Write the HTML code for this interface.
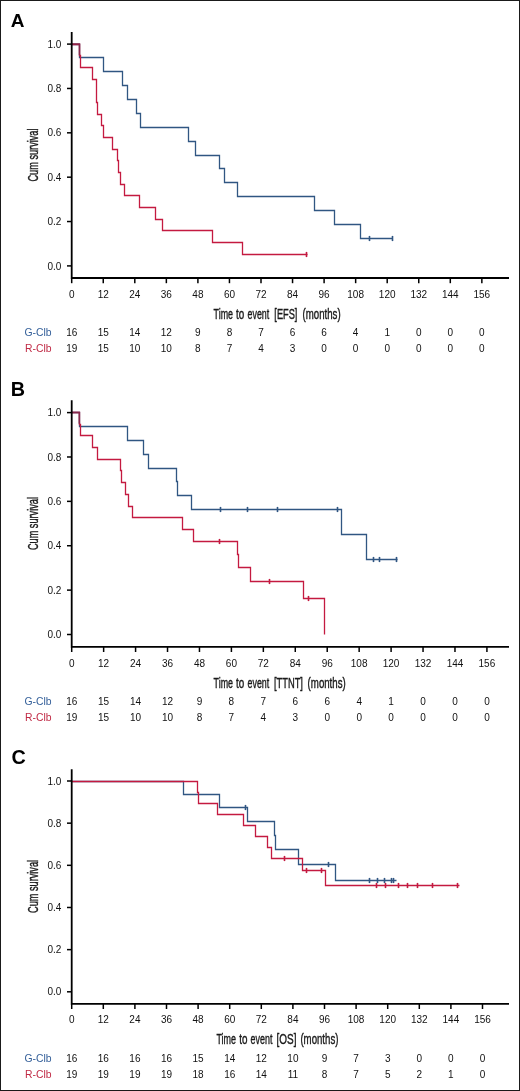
<!DOCTYPE html>
<html><head><meta charset="utf-8"><style>
html,body{margin:0;padding:0;background:#fff;}
body{width:520px;height:1091px;overflow:hidden;}
svg{display:block;will-change:transform;}
text{font-family:"Liberation Sans",sans-serif;}
.lbl{font-weight:bold;font-size:19px;fill:#000;}
.tk{font-size:10px;fill:#111;}
.ttl{font-size:14.3px;fill:#1a1a1a;stroke:#1a1a1a;stroke-width:0.4px;}
.ax{stroke:#000;stroke-width:1.5;}
.axl{stroke:#000;stroke-width:1.8;fill:none;}
.cv{fill:none;stroke-width:1.3;}
</style></head><body>
<svg width="520" height="1091" viewBox="0 0 520 1091">
<rect x="0.5" y="0.5" width="519" height="1090" fill="#fff" stroke="#1a1a1a" stroke-width="1"/>
<!-- panel A -->
<text x="10.8" y="26.7" class="lbl" style="font-size:19px">A</text>
<line x1="67" y1="265.90" x2="71.7" y2="265.90" class="ax"/>
<text x="61.4" y="269.50" class="tk" text-anchor="end">0.0</text>
<line x1="67" y1="221.54" x2="71.7" y2="221.54" class="ax"/>
<text x="61.4" y="225.14" class="tk" text-anchor="end">0.2</text>
<line x1="67" y1="177.18" x2="71.7" y2="177.18" class="ax"/>
<text x="61.4" y="180.78" class="tk" text-anchor="end">0.4</text>
<line x1="67" y1="132.82" x2="71.7" y2="132.82" class="ax"/>
<text x="61.4" y="136.42" class="tk" text-anchor="end">0.6</text>
<line x1="67" y1="88.46" x2="71.7" y2="88.46" class="ax"/>
<text x="61.4" y="92.06" class="tk" text-anchor="end">0.8</text>
<line x1="67" y1="44.10" x2="71.7" y2="44.10" class="ax"/>
<text x="61.4" y="47.70" class="tk" text-anchor="end">1.0</text>
<line x1="71.70" y1="278.0" x2="71.70" y2="283.20" class="ax"/>
<text x="71.70" y="298.4" class="tk" text-anchor="middle">0</text>
<text x="71.70" y="335.8" class="tk" text-anchor="middle">16</text>
<text x="71.70" y="351.7" class="tk" text-anchor="middle">19</text>
<line x1="103.25" y1="278.0" x2="103.25" y2="283.20" class="ax"/>
<text x="103.25" y="298.4" class="tk" text-anchor="middle">12</text>
<text x="103.25" y="335.8" class="tk" text-anchor="middle">15</text>
<text x="103.25" y="351.7" class="tk" text-anchor="middle">15</text>
<line x1="134.80" y1="278.0" x2="134.80" y2="283.20" class="ax"/>
<text x="134.80" y="298.4" class="tk" text-anchor="middle">24</text>
<text x="134.80" y="335.8" class="tk" text-anchor="middle">14</text>
<text x="134.80" y="351.7" class="tk" text-anchor="middle">10</text>
<line x1="166.35" y1="278.0" x2="166.35" y2="283.20" class="ax"/>
<text x="166.35" y="298.4" class="tk" text-anchor="middle">36</text>
<text x="166.35" y="335.8" class="tk" text-anchor="middle">12</text>
<text x="166.35" y="351.7" class="tk" text-anchor="middle">10</text>
<line x1="197.90" y1="278.0" x2="197.90" y2="283.20" class="ax"/>
<text x="197.90" y="298.4" class="tk" text-anchor="middle">48</text>
<text x="197.90" y="335.8" class="tk" text-anchor="middle">9</text>
<text x="197.90" y="351.7" class="tk" text-anchor="middle">8</text>
<line x1="229.45" y1="278.0" x2="229.45" y2="283.20" class="ax"/>
<text x="229.45" y="298.4" class="tk" text-anchor="middle">60</text>
<text x="229.45" y="335.8" class="tk" text-anchor="middle">8</text>
<text x="229.45" y="351.7" class="tk" text-anchor="middle">7</text>
<line x1="261.00" y1="278.0" x2="261.00" y2="283.20" class="ax"/>
<text x="261.00" y="298.4" class="tk" text-anchor="middle">72</text>
<text x="261.00" y="335.8" class="tk" text-anchor="middle">7</text>
<text x="261.00" y="351.7" class="tk" text-anchor="middle">4</text>
<line x1="292.55" y1="278.0" x2="292.55" y2="283.20" class="ax"/>
<text x="292.55" y="298.4" class="tk" text-anchor="middle">84</text>
<text x="292.55" y="335.8" class="tk" text-anchor="middle">6</text>
<text x="292.55" y="351.7" class="tk" text-anchor="middle">3</text>
<line x1="324.10" y1="278.0" x2="324.10" y2="283.20" class="ax"/>
<text x="324.10" y="298.4" class="tk" text-anchor="middle">96</text>
<text x="324.10" y="335.8" class="tk" text-anchor="middle">6</text>
<text x="324.10" y="351.7" class="tk" text-anchor="middle">0</text>
<line x1="355.65" y1="278.0" x2="355.65" y2="283.20" class="ax"/>
<text x="355.65" y="298.4" class="tk" text-anchor="middle">108</text>
<text x="355.65" y="335.8" class="tk" text-anchor="middle">4</text>
<text x="355.65" y="351.7" class="tk" text-anchor="middle">0</text>
<line x1="387.20" y1="278.0" x2="387.20" y2="283.20" class="ax"/>
<text x="387.20" y="298.4" class="tk" text-anchor="middle">120</text>
<text x="387.20" y="335.8" class="tk" text-anchor="middle">1</text>
<text x="387.20" y="351.7" class="tk" text-anchor="middle">0</text>
<line x1="418.75" y1="278.0" x2="418.75" y2="283.20" class="ax"/>
<text x="418.75" y="298.4" class="tk" text-anchor="middle">132</text>
<text x="418.75" y="335.8" class="tk" text-anchor="middle">0</text>
<text x="418.75" y="351.7" class="tk" text-anchor="middle">0</text>
<line x1="450.30" y1="278.0" x2="450.30" y2="283.20" class="ax"/>
<text x="450.30" y="298.4" class="tk" text-anchor="middle">144</text>
<text x="450.30" y="335.8" class="tk" text-anchor="middle">0</text>
<text x="450.30" y="351.7" class="tk" text-anchor="middle">0</text>
<line x1="481.85" y1="278.0" x2="481.85" y2="283.20" class="ax"/>
<text x="481.85" y="298.4" class="tk" text-anchor="middle">156</text>
<text x="481.85" y="335.8" class="tk" text-anchor="middle">0</text>
<text x="481.85" y="351.7" class="tk" text-anchor="middle">0</text>
<text transform="translate(38.4,155.00) rotate(-90)" text-anchor="middle" class="ttl" textLength="53" lengthAdjust="spacingAndGlyphs">Cum survival</text>
<text x="213.58" y="319.0" class="ttl" textLength="19.42" lengthAdjust="spacingAndGlyphs">Time</text>
<text x="236.05" y="319.0" class="ttl" textLength="8.23" lengthAdjust="spacingAndGlyphs">to</text>
<text x="247.60" y="319.0" class="ttl" textLength="21.65" lengthAdjust="spacingAndGlyphs">event</text>
<text x="274.36" y="319.0" class="ttl" textLength="22.99" lengthAdjust="spacingAndGlyphs">[EFS]</text>
<text x="302.62" y="319.0" class="ttl" textLength="38.01" lengthAdjust="spacingAndGlyphs">(months)</text>
<text x="51.6" y="335.8" class="tk" text-anchor="end" style="fill:#35609a;font-size:10.4px">G-Clb</text>
<text x="51.6" y="351.7" class="tk" text-anchor="end" style="fill:#c02a45;font-size:10.4px">R-Clb</text>
<path d="M71.70,44.50H79.50V57.50H103.50V71.50H122.50V85.50H127.50V99.50H136.50V113.50H140.50V127.50H188.50V141.50H195.50V155.50H219.50V168.50H224.50V182.50H237.50V196.50H314.50V210.50H334.50V224.50H360.50V238.50H393.00" stroke="#305682" class="cv"/>
<line x1="369.50" y1="235.90" x2="369.50" y2="241.10" stroke="#305682" stroke-width="1.6"/>
<line x1="392.50" y1="235.90" x2="392.50" y2="241.10" stroke="#305682" stroke-width="1.6"/>
<path d="M71.70,44.50H79.50V55.50H80.50V67.50H92.50V79.50H96.50V102.50H97.50V114.50H101.50V125.50H103.50V137.50H112.50V149.50H117.50V160.50H118.50V172.50H120.50V184.50H124.50V195.50H139.50V207.50H155.50V219.50H162.50V230.50H212.50V242.50H242.50V254.50H307.50" stroke="#c41a40" class="cv"/>
<line x1="306.50" y1="251.90" x2="306.50" y2="257.10" stroke="#c41a40" stroke-width="1.6"/>
<path d="M71.7,44.1H79.5V55.0" stroke="#86294b" class="cv" style="stroke-width:1.5"/>
<path d="M71.7,31.9V278.0H509" class="axl"/>
<!-- panel B -->
<text x="10.8" y="395.5" class="lbl" style="font-size:19.8px">B</text>
<line x1="67" y1="634.50" x2="71.7" y2="634.50" class="ax"/>
<text x="61.4" y="638.10" class="tk" text-anchor="end">0.0</text>
<line x1="67" y1="590.12" x2="71.7" y2="590.12" class="ax"/>
<text x="61.4" y="593.72" class="tk" text-anchor="end">0.2</text>
<line x1="67" y1="545.74" x2="71.7" y2="545.74" class="ax"/>
<text x="61.4" y="549.34" class="tk" text-anchor="end">0.4</text>
<line x1="67" y1="501.36" x2="71.7" y2="501.36" class="ax"/>
<text x="61.4" y="504.96" class="tk" text-anchor="end">0.6</text>
<line x1="67" y1="456.98" x2="71.7" y2="456.98" class="ax"/>
<text x="61.4" y="460.58" class="tk" text-anchor="end">0.8</text>
<line x1="67" y1="412.60" x2="71.7" y2="412.60" class="ax"/>
<text x="61.4" y="416.20" class="tk" text-anchor="end">1.0</text>
<line x1="71.70" y1="646.8" x2="71.70" y2="652.00" class="ax"/>
<text x="71.70" y="666.6" class="tk" text-anchor="middle">0</text>
<text x="71.70" y="704.5" class="tk" text-anchor="middle">16</text>
<text x="71.70" y="720.5" class="tk" text-anchor="middle">19</text>
<line x1="103.64" y1="646.8" x2="103.64" y2="652.00" class="ax"/>
<text x="103.64" y="666.6" class="tk" text-anchor="middle">12</text>
<text x="103.64" y="704.5" class="tk" text-anchor="middle">15</text>
<text x="103.64" y="720.5" class="tk" text-anchor="middle">15</text>
<line x1="135.58" y1="646.8" x2="135.58" y2="652.00" class="ax"/>
<text x="135.58" y="666.6" class="tk" text-anchor="middle">24</text>
<text x="135.58" y="704.5" class="tk" text-anchor="middle">14</text>
<text x="135.58" y="720.5" class="tk" text-anchor="middle">10</text>
<line x1="167.52" y1="646.8" x2="167.52" y2="652.00" class="ax"/>
<text x="167.52" y="666.6" class="tk" text-anchor="middle">36</text>
<text x="167.52" y="704.5" class="tk" text-anchor="middle">12</text>
<text x="167.52" y="720.5" class="tk" text-anchor="middle">10</text>
<line x1="199.46" y1="646.8" x2="199.46" y2="652.00" class="ax"/>
<text x="199.46" y="666.6" class="tk" text-anchor="middle">48</text>
<text x="199.46" y="704.5" class="tk" text-anchor="middle">9</text>
<text x="199.46" y="720.5" class="tk" text-anchor="middle">8</text>
<line x1="231.40" y1="646.8" x2="231.40" y2="652.00" class="ax"/>
<text x="231.40" y="666.6" class="tk" text-anchor="middle">60</text>
<text x="231.40" y="704.5" class="tk" text-anchor="middle">8</text>
<text x="231.40" y="720.5" class="tk" text-anchor="middle">7</text>
<line x1="263.34" y1="646.8" x2="263.34" y2="652.00" class="ax"/>
<text x="263.34" y="666.6" class="tk" text-anchor="middle">72</text>
<text x="263.34" y="704.5" class="tk" text-anchor="middle">7</text>
<text x="263.34" y="720.5" class="tk" text-anchor="middle">4</text>
<line x1="295.28" y1="646.8" x2="295.28" y2="652.00" class="ax"/>
<text x="295.28" y="666.6" class="tk" text-anchor="middle">84</text>
<text x="295.28" y="704.5" class="tk" text-anchor="middle">6</text>
<text x="295.28" y="720.5" class="tk" text-anchor="middle">3</text>
<line x1="327.22" y1="646.8" x2="327.22" y2="652.00" class="ax"/>
<text x="327.22" y="666.6" class="tk" text-anchor="middle">96</text>
<text x="327.22" y="704.5" class="tk" text-anchor="middle">6</text>
<text x="327.22" y="720.5" class="tk" text-anchor="middle">0</text>
<line x1="359.16" y1="646.8" x2="359.16" y2="652.00" class="ax"/>
<text x="359.16" y="666.6" class="tk" text-anchor="middle">108</text>
<text x="359.16" y="704.5" class="tk" text-anchor="middle">4</text>
<text x="359.16" y="720.5" class="tk" text-anchor="middle">0</text>
<line x1="391.10" y1="646.8" x2="391.10" y2="652.00" class="ax"/>
<text x="391.10" y="666.6" class="tk" text-anchor="middle">120</text>
<text x="391.10" y="704.5" class="tk" text-anchor="middle">1</text>
<text x="391.10" y="720.5" class="tk" text-anchor="middle">0</text>
<line x1="423.04" y1="646.8" x2="423.04" y2="652.00" class="ax"/>
<text x="423.04" y="666.6" class="tk" text-anchor="middle">132</text>
<text x="423.04" y="704.5" class="tk" text-anchor="middle">0</text>
<text x="423.04" y="720.5" class="tk" text-anchor="middle">0</text>
<line x1="454.98" y1="646.8" x2="454.98" y2="652.00" class="ax"/>
<text x="454.98" y="666.6" class="tk" text-anchor="middle">144</text>
<text x="454.98" y="704.5" class="tk" text-anchor="middle">0</text>
<text x="454.98" y="720.5" class="tk" text-anchor="middle">0</text>
<line x1="486.92" y1="646.8" x2="486.92" y2="652.00" class="ax"/>
<text x="486.92" y="666.6" class="tk" text-anchor="middle">156</text>
<text x="486.92" y="704.5" class="tk" text-anchor="middle">0</text>
<text x="486.92" y="720.5" class="tk" text-anchor="middle">0</text>
<text transform="translate(38.4,523.55) rotate(-90)" text-anchor="middle" class="ttl" textLength="53" lengthAdjust="spacingAndGlyphs">Cum survival</text>
<text x="213.58" y="687.8" class="ttl" textLength="19.42" lengthAdjust="spacingAndGlyphs">Time</text>
<text x="236.05" y="687.8" class="ttl" textLength="8.23" lengthAdjust="spacingAndGlyphs">to</text>
<text x="247.60" y="687.8" class="ttl" textLength="21.65" lengthAdjust="spacingAndGlyphs">event</text>
<text x="273.95" y="687.8" class="ttl" textLength="29.01" lengthAdjust="spacingAndGlyphs">[TTNT]</text>
<text x="307.62" y="687.8" class="ttl" textLength="38.11" lengthAdjust="spacingAndGlyphs">(months)</text>
<text x="51.6" y="704.5" class="tk" text-anchor="end" style="fill:#35609a;font-size:10.4px">G-Clb</text>
<text x="51.6" y="720.5" class="tk" text-anchor="end" style="fill:#c02a45;font-size:10.4px">R-Clb</text>
<path d="M71.70,412.50H79.50V426.50H127.50V440.50H143.50V454.50H148.50V468.50H176.50V481.50H177.50V495.50H191.50V509.50H341.50V534.50H366.50V559.50H397.50" stroke="#305682" class="cv"/>
<line x1="220.50" y1="506.90" x2="220.50" y2="512.10" stroke="#305682" stroke-width="1.6"/>
<line x1="247.50" y1="506.90" x2="247.50" y2="512.10" stroke="#305682" stroke-width="1.6"/>
<line x1="277.50" y1="506.90" x2="277.50" y2="512.10" stroke="#305682" stroke-width="1.6"/>
<line x1="337.50" y1="506.90" x2="337.50" y2="512.10" stroke="#305682" stroke-width="1.6"/>
<line x1="373.50" y1="556.90" x2="373.50" y2="562.10" stroke="#305682" stroke-width="1.6"/>
<line x1="379.50" y1="556.90" x2="379.50" y2="562.10" stroke="#305682" stroke-width="1.6"/>
<line x1="396.50" y1="556.90" x2="396.50" y2="562.10" stroke="#305682" stroke-width="1.6"/>
<path d="M71.70,412.50H79.50V424.50H80.50V435.50H92.50V447.50H97.50V459.50H120.50V470.50H121.50V482.50H125.50V494.50H128.50V506.50H132.50V517.50H182.50V529.50H193.50V541.50H237.50V554.50H238.50V567.50H250.50V581.50H303.50V598.50H324.50V634.50" stroke="#c41a40" class="cv"/>
<line x1="219.50" y1="538.90" x2="219.50" y2="544.10" stroke="#c41a40" stroke-width="1.6"/>
<line x1="269.50" y1="578.90" x2="269.50" y2="584.10" stroke="#c41a40" stroke-width="1.6"/>
<line x1="308.50" y1="595.90" x2="308.50" y2="601.10" stroke="#c41a40" stroke-width="1.6"/>
<path d="M71.7,412.6H79.3V423.8" stroke="#86294b" class="cv" style="stroke-width:1.5"/>
<path d="M71.7,400.3V646.8H509" class="axl"/>
<!-- panel C -->
<text x="11.6" y="764.2" class="lbl" style="font-size:19.8px">C</text>
<line x1="67" y1="991.80" x2="71.7" y2="991.80" class="ax"/>
<text x="61.4" y="995.40" class="tk" text-anchor="end">0.0</text>
<line x1="67" y1="949.64" x2="71.7" y2="949.64" class="ax"/>
<text x="61.4" y="953.24" class="tk" text-anchor="end">0.2</text>
<line x1="67" y1="907.48" x2="71.7" y2="907.48" class="ax"/>
<text x="61.4" y="911.08" class="tk" text-anchor="end">0.4</text>
<line x1="67" y1="865.32" x2="71.7" y2="865.32" class="ax"/>
<text x="61.4" y="868.92" class="tk" text-anchor="end">0.6</text>
<line x1="67" y1="823.16" x2="71.7" y2="823.16" class="ax"/>
<text x="61.4" y="826.76" class="tk" text-anchor="end">0.8</text>
<line x1="67" y1="781.00" x2="71.7" y2="781.00" class="ax"/>
<text x="61.4" y="784.60" class="tk" text-anchor="end">1.0</text>
<line x1="71.70" y1="1003.8" x2="71.70" y2="1009.00" class="ax"/>
<text x="71.70" y="1023.3" class="tk" text-anchor="middle">0</text>
<text x="71.70" y="1061.6" class="tk" text-anchor="middle">16</text>
<text x="71.70" y="1077.5" class="tk" text-anchor="middle">19</text>
<line x1="103.30" y1="1003.8" x2="103.30" y2="1009.00" class="ax"/>
<text x="103.30" y="1023.3" class="tk" text-anchor="middle">12</text>
<text x="103.30" y="1061.6" class="tk" text-anchor="middle">16</text>
<text x="103.30" y="1077.5" class="tk" text-anchor="middle">19</text>
<line x1="134.90" y1="1003.8" x2="134.90" y2="1009.00" class="ax"/>
<text x="134.90" y="1023.3" class="tk" text-anchor="middle">24</text>
<text x="134.90" y="1061.6" class="tk" text-anchor="middle">16</text>
<text x="134.90" y="1077.5" class="tk" text-anchor="middle">19</text>
<line x1="166.50" y1="1003.8" x2="166.50" y2="1009.00" class="ax"/>
<text x="166.50" y="1023.3" class="tk" text-anchor="middle">36</text>
<text x="166.50" y="1061.6" class="tk" text-anchor="middle">16</text>
<text x="166.50" y="1077.5" class="tk" text-anchor="middle">19</text>
<line x1="198.10" y1="1003.8" x2="198.10" y2="1009.00" class="ax"/>
<text x="198.10" y="1023.3" class="tk" text-anchor="middle">48</text>
<text x="198.10" y="1061.6" class="tk" text-anchor="middle">15</text>
<text x="198.10" y="1077.5" class="tk" text-anchor="middle">18</text>
<line x1="229.70" y1="1003.8" x2="229.70" y2="1009.00" class="ax"/>
<text x="229.70" y="1023.3" class="tk" text-anchor="middle">60</text>
<text x="229.70" y="1061.6" class="tk" text-anchor="middle">14</text>
<text x="229.70" y="1077.5" class="tk" text-anchor="middle">16</text>
<line x1="261.30" y1="1003.8" x2="261.30" y2="1009.00" class="ax"/>
<text x="261.30" y="1023.3" class="tk" text-anchor="middle">72</text>
<text x="261.30" y="1061.6" class="tk" text-anchor="middle">12</text>
<text x="261.30" y="1077.5" class="tk" text-anchor="middle">14</text>
<line x1="292.90" y1="1003.8" x2="292.90" y2="1009.00" class="ax"/>
<text x="292.90" y="1023.3" class="tk" text-anchor="middle">84</text>
<text x="292.90" y="1061.6" class="tk" text-anchor="middle">10</text>
<text x="292.90" y="1077.5" class="tk" text-anchor="middle">11</text>
<line x1="324.50" y1="1003.8" x2="324.50" y2="1009.00" class="ax"/>
<text x="324.50" y="1023.3" class="tk" text-anchor="middle">96</text>
<text x="324.50" y="1061.6" class="tk" text-anchor="middle">9</text>
<text x="324.50" y="1077.5" class="tk" text-anchor="middle">8</text>
<line x1="356.10" y1="1003.8" x2="356.10" y2="1009.00" class="ax"/>
<text x="356.10" y="1023.3" class="tk" text-anchor="middle">108</text>
<text x="356.10" y="1061.6" class="tk" text-anchor="middle">7</text>
<text x="356.10" y="1077.5" class="tk" text-anchor="middle">7</text>
<line x1="387.70" y1="1003.8" x2="387.70" y2="1009.00" class="ax"/>
<text x="387.70" y="1023.3" class="tk" text-anchor="middle">120</text>
<text x="387.70" y="1061.6" class="tk" text-anchor="middle">3</text>
<text x="387.70" y="1077.5" class="tk" text-anchor="middle">5</text>
<line x1="419.30" y1="1003.8" x2="419.30" y2="1009.00" class="ax"/>
<text x="419.30" y="1023.3" class="tk" text-anchor="middle">132</text>
<text x="419.30" y="1061.6" class="tk" text-anchor="middle">0</text>
<text x="419.30" y="1077.5" class="tk" text-anchor="middle">2</text>
<line x1="450.90" y1="1003.8" x2="450.90" y2="1009.00" class="ax"/>
<text x="450.90" y="1023.3" class="tk" text-anchor="middle">144</text>
<text x="450.90" y="1061.6" class="tk" text-anchor="middle">0</text>
<text x="450.90" y="1077.5" class="tk" text-anchor="middle">1</text>
<line x1="482.50" y1="1003.8" x2="482.50" y2="1009.00" class="ax"/>
<text x="482.50" y="1023.3" class="tk" text-anchor="middle">156</text>
<text x="482.50" y="1061.6" class="tk" text-anchor="middle">0</text>
<text x="482.50" y="1077.5" class="tk" text-anchor="middle">0</text>
<text transform="translate(38.4,886.40) rotate(-90)" text-anchor="middle" class="ttl" textLength="53" lengthAdjust="spacingAndGlyphs">Cum survival</text>
<text x="216.48" y="1044.3" class="ttl" textLength="19.53" lengthAdjust="spacingAndGlyphs">Time</text>
<text x="239.15" y="1044.3" class="ttl" textLength="8.23" lengthAdjust="spacingAndGlyphs">to</text>
<text x="250.60" y="1044.3" class="ttl" textLength="21.76" lengthAdjust="spacingAndGlyphs">event</text>
<text x="276.50" y="1044.3" class="ttl" textLength="19.90" lengthAdjust="spacingAndGlyphs">[OS]</text>
<text x="300.42" y="1044.3" class="ttl" textLength="38.01" lengthAdjust="spacingAndGlyphs">(months)</text>
<text x="51.6" y="1061.6" class="tk" text-anchor="end" style="fill:#35609a;font-size:10.4px">G-Clb</text>
<text x="51.6" y="1077.5" class="tk" text-anchor="end" style="fill:#c02a45;font-size:10.4px">R-Clb</text>
<path d="M71.70,781.50H183.50V794.50H219.50V807.50H247.50V821.50H274.50V835.50H275.50V849.50H298.50V864.50H335.50V880.50H396.50" stroke="#305682" class="cv"/>
<line x1="245.50" y1="804.90" x2="245.50" y2="810.10" stroke="#305682" stroke-width="1.6"/>
<line x1="328.50" y1="861.90" x2="328.50" y2="867.10" stroke="#305682" stroke-width="1.6"/>
<line x1="369.50" y1="877.90" x2="369.50" y2="883.10" stroke="#305682" stroke-width="1.6"/>
<line x1="377.50" y1="877.90" x2="377.50" y2="883.10" stroke="#305682" stroke-width="1.6"/>
<line x1="384.50" y1="877.90" x2="384.50" y2="883.10" stroke="#305682" stroke-width="1.6"/>
<line x1="391.50" y1="877.90" x2="391.50" y2="883.10" stroke="#305682" stroke-width="1.6"/>
<line x1="393.50" y1="877.90" x2="393.50" y2="883.10" stroke="#305682" stroke-width="1.6"/>
<path d="M71.70,781.50H197.50V792.50H198.50V803.50H217.50V814.50H243.50V825.50H255.50V836.50H267.50V847.50H271.50V858.50H302.50V870.50H325.50V885.50H459.50" stroke="#c41a40" class="cv"/>
<line x1="284.50" y1="855.90" x2="284.50" y2="861.10" stroke="#c41a40" stroke-width="1.6"/>
<line x1="306.50" y1="867.90" x2="306.50" y2="873.10" stroke="#c41a40" stroke-width="1.6"/>
<line x1="321.50" y1="867.90" x2="321.50" y2="873.10" stroke="#c41a40" stroke-width="1.6"/>
<line x1="376.50" y1="882.90" x2="376.50" y2="888.10" stroke="#c41a40" stroke-width="1.6"/>
<line x1="385.50" y1="882.90" x2="385.50" y2="888.10" stroke="#c41a40" stroke-width="1.6"/>
<line x1="398.50" y1="882.90" x2="398.50" y2="888.10" stroke="#c41a40" stroke-width="1.6"/>
<line x1="407.50" y1="882.90" x2="407.50" y2="888.10" stroke="#c41a40" stroke-width="1.6"/>
<line x1="417.50" y1="882.90" x2="417.50" y2="888.10" stroke="#c41a40" stroke-width="1.6"/>
<line x1="432.50" y1="882.90" x2="432.50" y2="888.10" stroke="#c41a40" stroke-width="1.6"/>
<line x1="457.50" y1="882.90" x2="457.50" y2="888.10" stroke="#c41a40" stroke-width="1.6"/>
<path d="M71.7,769.3V1003.8H509" class="axl"/>
</svg>
</body></html>
